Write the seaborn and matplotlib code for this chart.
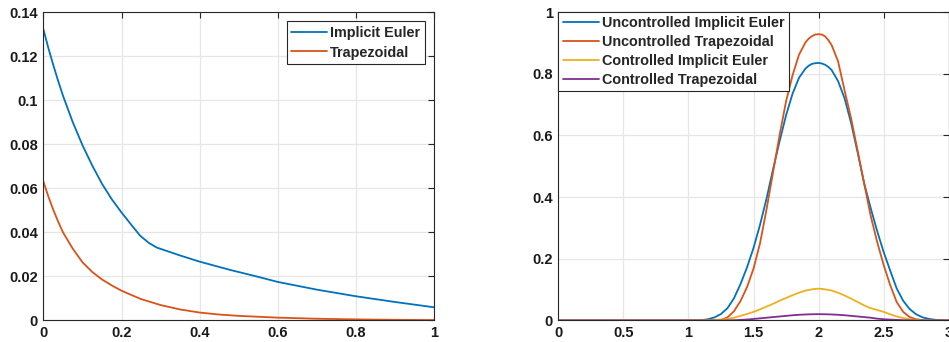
import numpy as np
import pandas as pd
import seaborn as sns
import matplotlib
matplotlib.use("Agg")
import matplotlib.pyplot as plt

# ---- Left panel: error decay over time ----
t_ie = [0.0, 0.0125, 0.025, 0.0375, 0.05, 0.075, 0.1, 0.125, 0.15, 0.175, 0.2,
        0.225, 0.2474, 0.27, 0.29, 0.35, 0.4, 0.477, 0.55, 0.6, 0.7, 0.8,
        0.9, 1.0]
err_ie = [0.132, 0.1237, 0.116, 0.1088, 0.102, 0.090, 0.0795, 0.0703, 0.0620,
          0.0550, 0.0490, 0.0434, 0.0385, 0.0352, 0.0331, 0.0295, 0.0267,
          0.0230, 0.0198, 0.0175, 0.0140, 0.0110, 0.0084, 0.0060]
t_tr = [0.0, 0.0125, 0.025, 0.0375, 0.05, 0.075, 0.1, 0.125, 0.15, 0.175, 0.2,
        0.25, 0.3, 0.35, 0.4, 0.45, 0.5, 0.6, 0.7, 0.8, 0.9, 1.0]
err_tr = [0.063, 0.0563, 0.0503, 0.0449, 0.0400, 0.0326, 0.0264, 0.0220,
          0.0186, 0.0159, 0.0135, 0.0097, 0.0070, 0.0050, 0.0036, 0.0027,
          0.0021, 0.0013, 0.0008, 0.0005, 0.0003, 0.0002]
left_names = ["Implicit Euler", "Trapezoidal"]

# ---- Right panel: state profiles ----
x_prof = [0.0, 0.5, 1.0, 1.05, 1.1, 1.15, 1.2, 1.25, 1.3, 1.35, 1.4, 1.45, 1.5,
          1.55, 1.6, 1.65, 1.7, 1.75, 1.8, 1.85, 1.9, 1.925, 1.95, 1.975, 2.0,
          2.025, 2.05, 2.075, 2.1, 2.15, 2.2, 2.25, 2.3, 2.35, 2.4, 2.45, 2.5,
          2.55, 2.6, 2.65, 2.7, 2.75, 2.8, 2.85, 2.9, 2.95, 3.0]
unc_ie = [0.0, 0.0, 0.0, 0.0, 0.001, 0.004, 0.010, 0.021, 0.040, 0.072, 0.118,
          0.172, 0.235, 0.31, 0.395, 0.49, 0.58, 0.665, 0.735, 0.787, 0.817,
          0.826, 0.832, 0.834, 0.835, 0.833, 0.829, 0.822, 0.812, 0.776,
          0.72, 0.64, 0.545, 0.445, 0.365, 0.29, 0.222, 0.162, 0.104, 0.064,
          0.037, 0.020, 0.010, 0.005, 0.002, 0.001, 0.0]
unc_tr = [0.0, 0.0, 0.0, 0.0, 0.0, 0.0, 0.0, 0.002, 0.010, 0.030, 0.063, 0.108,
          0.168, 0.25, 0.36, 0.48, 0.60, 0.71, 0.795, 0.862, 0.902, 0.914,
          0.922, 0.927, 0.928, 0.927, 0.921, 0.909, 0.893, 0.84, 0.745,
          0.655, 0.55, 0.445, 0.34, 0.255, 0.18, 0.115, 0.060, 0.028, 0.011,
          0.004, 0.0015, 0.0, 0.0, 0.0, 0.0]
ctl_ie = [0.0, 0.0, 0.0, 0.0, 0.0005, 0.001, 0.002, 0.003, 0.005, 0.009, 0.015,
          0.021, 0.028, 0.036, 0.045, 0.054, 0.064, 0.073, 0.082, 0.090,
          0.097, 0.099, 0.101, 0.1025, 0.103, 0.1025, 0.101, 0.099, 0.097,
          0.090, 0.081, 0.071, 0.060, 0.049, 0.040, 0.034, 0.028, 0.020,
          0.013, 0.008, 0.004, 0.002, 0.001, 0.0005, 0.0, 0.0, 0.0]
ctl_tr = [0.0, 0.0, 0.0, 0.0, 0.0, 0.0, 0.0, 0.0, 0.0005, 0.001, 0.002, 0.003,
          0.005, 0.007, 0.009, 0.011, 0.013, 0.015, 0.017, 0.0185, 0.0195,
          0.0199, 0.0202, 0.0204, 0.0205, 0.0204, 0.0202, 0.0199, 0.0195,
          0.0185, 0.017, 0.015, 0.013, 0.011, 0.009, 0.006, 0.004, 0.003,
          0.002, 0.001, 0.0005, 0.0, 0.0, 0.0, 0.0, 0.0, 0.0]
right_names = ["Uncontrolled Implicit Euler", "Uncontrolled Trapezoidal",
               "Controlled Implicit Euler", "Controlled Trapezoidal"]

left_xticks = [0, 0.2, 0.4, 0.6, 0.8, 1]
left_xlabels = ["0", "0.2", "0.4", "0.6", "0.8", "1"]
left_yticks = [0, 0.02, 0.04, 0.06, 0.08, 0.1, 0.12, 0.14]
left_ylabels = ["0", "0.02", "0.04", "0.06", "0.08", "0.1", "0.12", "0.14"]
right_xticks = [0, 0.5, 1, 1.5, 2, 2.5, 3]
right_xlabels = ["0", "0.5", "1", "1.5", "2", "2.5", "3"]
right_yticks = [0, 0.2, 0.4, 0.6, 0.8, 1]
right_ylabels = ["0", "0.2", "0.4", "0.6", "0.8", "1"]

colors = ["#0072BD", "#D95319", "#EDB120", "#7E2F8E"]

left_df = pd.concat([
    pd.DataFrame({"t": t_ie, "err": err_ie, "method": left_names[0]}),
    pd.DataFrame({"t": t_tr, "err": err_tr, "method": left_names[1]}),
])
right_df = pd.concat([
    pd.DataFrame({"x": x_prof, "u": vals, "case": name})
    for name, vals in zip(right_names, [unc_ie, unc_tr, ctl_ie, ctl_tr])
])

sns.set_style("white")
plt.rcParams["font.family"] = ["Liberation Sans", "DejaVu Sans"]
plt.rcParams["font.weight"] = "bold"

fig = plt.figure(figsize=(9.49, 3.42), dpi=100)
ax1 = fig.add_axes([0.0458, 0.0629, 0.4115, 0.902])
ax2 = fig.add_axes([0.5883, 0.0629, 0.4114, 0.902])

sns.lineplot(data=left_df, x="t", y="err", hue="method", palette=colors[:2],
             estimator=None, linewidth=1.3, legend=False, ax=ax1)
sns.lineplot(data=right_df, x="x", y="u", hue="case", palette=colors,
             estimator=None, linewidth=1.3, legend=False, ax=ax2)


def style(ax, xt, xl, yt, yl, xlim, ylim):
    ax.set_xlim(*xlim)
    ax.set_ylim(*ylim)
    ax.set_xticks(xt)
    ax.set_xticklabels(xl)
    ax.set_yticks(yt)
    ax.set_yticklabels(yl)
    ax.set_xlabel("")
    ax.set_ylabel("")
    ax.grid(True, color="#e6e6e6", linewidth=0.9)
    ax.set_axisbelow(True)
    for sp in ax.spines.values():
        sp.set_visible(True)
        sp.set_color("#262626")
        sp.set_linewidth(0.8)
    ax.tick_params(direction="in", length=4, width=0.8, color="#262626",
                   top=True, right=True, labelsize=10.5, labelcolor="#1a1a1a",
                   pad=4)
    for lab in ax.get_xticklabels() + ax.get_yticklabels():
        lab.set_fontweight("bold")


style(ax1, left_xticks, left_xlabels, left_yticks, left_ylabels, (0, 1), (0, 0.14))
style(ax2, right_xticks, right_xlabels, right_yticks, right_ylabels, (0, 3), (0, 1))

leg_kw = dict(frameon=True, fancybox=False, framealpha=1, edgecolor="#262626",
              handlelength=2.5, handletextpad=0.2, borderpad=0.3,
              prop={"weight": "bold", "size": 10.4})
l1 = ax1.legend(ax1.get_lines(), left_names, loc="upper right",
                borderaxespad=0.65, labelspacing=0.4, **leg_kw)
l2 = ax2.legend(ax2.get_lines(), right_names, loc="upper left",
                borderaxespad=0.0, labelspacing=0.33, **leg_kw)
for lg in (l1, l2):
    lg.get_frame().set_linewidth(0.8)

fig.savefig("out.png", dpi=100)
